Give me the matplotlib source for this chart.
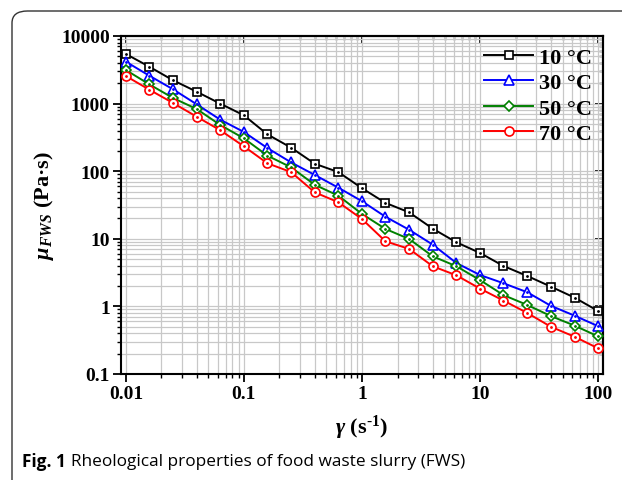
import matplotlib
matplotlib.use("Agg")
import matplotlib.pyplot as plt
from matplotlib.patches import FancyBboxPatch
from matplotlib.ticker import FixedLocator, FixedFormatter, LogLocator, NullFormatter

plt.rcParams['font.family'] = 'Liberation Serif'
plt.rcParams['font.weight'] = 'bold'
plt.rcParams['axes.labelweight'] = 'bold'
plt.rcParams['mathtext.fontset'] = 'custom'
plt.rcParams['mathtext.rm'] = 'Liberation Serif:bold'
plt.rcParams['mathtext.it'] = 'Liberation Serif:italic:bold'
plt.rcParams['mathtext.bf'] = 'Liberation Serif:bold'

# shear rate (1/s)
shear_rate = [0.01, 0.0158, 0.0251, 0.0398, 0.0631, 0.1, 0.158, 0.251, 0.398, 0.631,
              1, 1.58, 2.51, 3.98, 6.31, 10, 15.8, 25.1, 39.8, 63.1, 100]

# viscosity (Pa.s) per temperature
visc_10 = [5420, 3515, 2213, 1500, 997, 671, 351, 223, 129, 97, 56,
           34, 24.6, 14.1, 8.87, 6.17, 3.96, 2.82, 1.96, 1.35, 0.855]
visc_30 = [4170, 2588, 1627, 977, 578, 380, 220, 135, 88, 57, 36,
           21.2, 13.6, 8.18, 4.38, 2.91, 2.2, 1.62, 1.02, 0.73, 0.51]
visc_50 = [3140, 1928, 1210, 832, 482, 306, 170, 114, 63, 43.4, 23.3,
           14, 9.93, 5.5, 3.92, 2.45, 1.47, 1.05, 0.72, 0.52, 0.36]
visc_70 = [2560, 1607, 1021, 640, 403, 233, 131, 97, 48.7, 34.7, 19.6,
           9.19, 7.08, 3.92, 2.88, 1.83, 1.22, 0.80, 0.50, 0.356, 0.24]

series_labels = ['10 °C', '30 °C', '50 °C', '70 °C']

x_ticks = [0.01, 0.1, 1, 10, 100]
x_ticklabels = ['0.01', '0.1', '1', '10', '100']
y_ticks = [0.1, 1, 10, 100, 1000, 10000]
y_ticklabels = ['0.1', '1', '10', '100', '1000', '10000']

fig = plt.figure(figsize=(6.22, 4.81), dpi=100)

# panel frame with rounded corner
frame = FancyBboxPatch((12 / 622, -0.2), 1.2, 1 - 12 / 481 + 0.2,
                       boxstyle="round,pad=0,rounding_size=0.025",
                       transform=fig.transFigure, facecolor='white',
                       edgecolor='#333333', linewidth=1.0, zorder=-10)
fig.patches.append(frame)

ax = fig.add_axes([121 / 622, 1 - 375 / 481, (603 - 121) / 622, (375 - 37) / 481])
ax.set_xscale('log')
ax.set_yscale('log')
ax.set_xlim(0.0091, 110)
ax.set_ylim(0.1, 10000)

styles = [
    ('black', 's', 5.5),
    ('blue', '^', 7.5),
    ('green', 'D', 5.5),
    ('red', 'o', 6.5),
]
all_visc = [visc_10, visc_30, visc_50, visc_70]
for visc, lab, (col, mk, ms) in zip(all_visc, series_labels, styles):
    ax.plot(shear_rate, visc, color=col, lw=1.4, marker=mk, ms=ms,
            mfc='white', mec=col, mew=1.2, label=lab, zorder=3)
    ax.plot(shear_rate, visc, ls='none', marker='.', ms=2, color=col, zorder=4)

ax.xaxis.set_major_locator(FixedLocator(x_ticks))
ax.xaxis.set_major_formatter(FixedFormatter(x_ticklabels))
ax.yaxis.set_major_locator(FixedLocator(y_ticks))
ax.yaxis.set_major_formatter(FixedFormatter(y_ticklabels))
ax.xaxis.set_minor_locator(LogLocator(base=10, subs=range(2, 10)))
ax.yaxis.set_minor_locator(LogLocator(base=10, subs=range(2, 10)))
ax.xaxis.set_minor_formatter(NullFormatter())
ax.yaxis.set_minor_formatter(NullFormatter())

ax.grid(True, which='both', color='#c8c8c8', lw=0.9)
ax.set_axisbelow(True)
ax.tick_params(which='major', direction='out', length=6, width=1.3, labelsize=14, pad=2)
ax.tick_params(which='minor', direction='out', length=3, width=1.0)
for sp in ax.spines.values():
    sp.set_linewidth(1.5)

# inward ticks on top and right
sec_x = ax.secondary_xaxis('top')
sec_x.xaxis.set_major_locator(FixedLocator(x_ticks))
sec_x.xaxis.set_minor_locator(LogLocator(base=10, subs=range(2, 10)))
sec_y = ax.secondary_yaxis('right')
sec_y.yaxis.set_major_locator(FixedLocator(y_ticks))
sec_y.yaxis.set_minor_locator(LogLocator(base=10, subs=range(2, 10)))
for sec, side in [(sec_x, 'top'), (sec_y, 'right')]:
    sec.tick_params(which='major', direction='in', length=6, width=1.3,
                    labelleft=False, labelright=False, labeltop=False, labelbottom=False)
    sec.tick_params(which='minor', direction='in', length=3, width=1.0)
    sec.spines[side].set_linewidth(1.5)

ax.set_xlabel(r'$\gamma$ (s$^{\text{-1}}$)', fontsize=16, labelpad=8)
ax.set_ylabel(r'$\mu_{FWS}$ (Pa·s)', fontsize=16, labelpad=4)

leg = ax.legend(loc='upper right', bbox_to_anchor=(0.977, 0.967), frameon=False,
                fontsize=16, handlelength=2.2, handletextpad=0.25, labelspacing=0.22,
                borderaxespad=0, borderpad=0)

fig.text(22 / 622, 1 - 462 / 481, 'Fig. 1', family='Open Sans', weight='bold',
         fontsize=12.4, va='center', ha='left')
fig.text(71 / 622, 1 - 462 / 481, 'Rheological properties of food waste slurry (FWS)',
         family='Open Sans', weight='normal', fontsize=12.4, va='center', ha='left')

fig.savefig('out.png', dpi=100)
